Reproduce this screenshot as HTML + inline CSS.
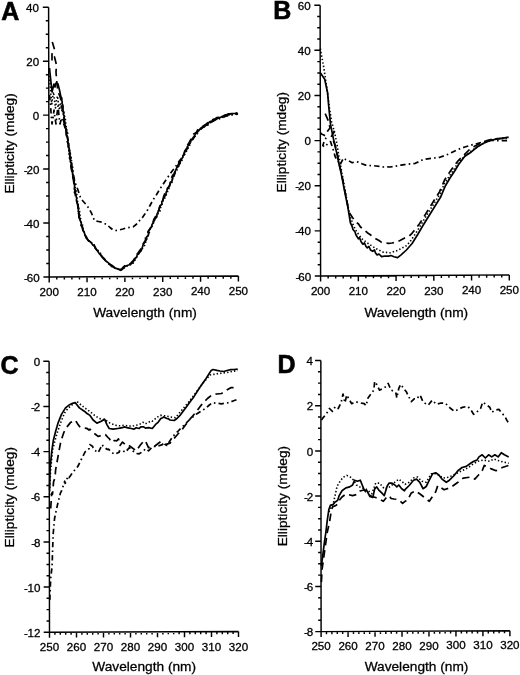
<!DOCTYPE html>
<html><head><meta charset="utf-8"><style>
html,body{margin:0;padding:0;background:#fff;}
svg{display:block;will-change:transform;}
.t{font-family:"Liberation Sans", sans-serif;font-size:11.6px;fill:#000;stroke:#000;stroke-width:0.3px;}
.at{font-family:"Liberation Sans", sans-serif;font-size:13.7px;fill:#000;stroke:#000;stroke-width:0.3px;}
.L{font-family:"Liberation Sans", sans-serif;font-size:25px;font-weight:bold;fill:#000;stroke:#000;stroke-width:0.6px;}
.ax{fill:none;stroke:#000;stroke-width:1.45;}
.c{fill:none;stroke:#000;stroke-width:1.6;stroke-linejoin:round;stroke-linecap:butt;}
</style></head><body>
<svg width="520" height="675" viewBox="0 0 520 675">
<text x="49.20" y="296.25" class="t" text-anchor="middle">200</text>
<text x="87.04" y="296.05" class="t" text-anchor="middle">210</text>
<text x="124.88" y="295.85" class="t" text-anchor="middle">220</text>
<text x="162.72" y="295.65" class="t" text-anchor="middle">230</text>
<text x="200.56" y="295.45" class="t" text-anchor="middle">240</text>
<text x="238.40" y="295.25" class="t" text-anchor="middle">250</text>
<text x="39.60" y="281.60" class="t" text-anchor="end"><tspan>-</tspan><tspan dx="-1.1">60</tspan></text>
<text x="39.48" y="227.64" class="t" text-anchor="end"><tspan>-</tspan><tspan dx="-1.1">40</tspan></text>
<text x="39.36" y="173.68" class="t" text-anchor="end"><tspan>-</tspan><tspan dx="-1.1">20</tspan></text>
<text x="39.24" y="119.72" class="t" text-anchor="end">0</text>
<text x="39.12" y="65.76" class="t" text-anchor="end">20</text>
<text x="39.00" y="11.80" class="t" text-anchor="end">40</text>
<path d="M48.60,7.20L49.20,277.00L238.40,276.00M49.20,277.00v5.5M56.77,276.96v2.6M64.34,276.92v2.6M71.90,276.88v2.6M79.47,276.84v2.6M87.04,276.80v5.5M94.61,276.76v2.6M102.18,276.72v2.6M109.74,276.68v2.6M117.31,276.64v2.6M124.88,276.60v5.5M132.45,276.56v2.6M140.02,276.52v2.6M147.58,276.48v2.6M155.15,276.44v2.6M162.72,276.40v5.5M170.29,276.36v2.6M177.86,276.32v2.6M185.42,276.28v2.6M192.99,276.24v2.6M200.56,276.20v5.5M208.13,276.16v2.6M215.70,276.12v2.6M223.26,276.08v2.6M230.83,276.04v2.6M238.40,276.00v5.5M49.20,277.00h-5.8M49.17,263.51h-2.9M49.14,250.02h-2.9M49.11,236.53h-2.9M49.08,223.04h-5.8M49.05,209.55h-2.9M49.02,196.06h-2.9M48.99,182.57h-2.9M48.96,169.08h-5.8M48.93,155.59h-2.9M48.90,142.10h-2.9M48.87,128.61h-2.9M48.84,115.12h-5.8M48.81,101.63h-2.9M48.78,88.14h-2.9M48.75,74.65h-2.9M48.72,61.16h-5.8M48.69,47.67h-2.9M48.66,34.18h-2.9M48.63,20.69h-2.9M48.60,7.20h-5.8" class="ax"/>
<text x="1.3" y="19.6" class="L">A</text>
<text transform="translate(14.0,143.4) rotate(-90)" class="at" text-anchor="middle">Ellipticity (mdeg)</text>
<text x="145.0" y="317.2" class="at" text-anchor="middle">Wavelength (nm)</text>
<text x="320.60" y="295.20" class="t" text-anchor="middle">200</text>
<text x="358.34" y="294.98" class="t" text-anchor="middle">210</text>
<text x="396.08" y="294.76" class="t" text-anchor="middle">220</text>
<text x="433.82" y="294.54" class="t" text-anchor="middle">230</text>
<text x="471.56" y="294.32" class="t" text-anchor="middle">240</text>
<text x="509.30" y="294.10" class="t" text-anchor="middle">250</text>
<text x="311.10" y="280.60" class="t" text-anchor="end"><tspan>-</tspan><tspan dx="-1.1">60</tspan></text>
<text x="311.02" y="235.47" class="t" text-anchor="end"><tspan>-</tspan><tspan dx="-1.1">40</tspan></text>
<text x="310.93" y="190.33" class="t" text-anchor="end"><tspan>-</tspan><tspan dx="-1.1">20</tspan></text>
<text x="310.85" y="145.20" class="t" text-anchor="end">0</text>
<text x="310.77" y="100.07" class="t" text-anchor="end">20</text>
<text x="310.68" y="54.93" class="t" text-anchor="end">40</text>
<text x="310.60" y="9.80" class="t" text-anchor="end">60</text>
<path d="M320.10,5.20L320.60,276.00L509.30,274.90M320.60,276.00v5.5M328.15,275.96v2.6M335.70,275.91v2.6M343.24,275.87v2.6M350.79,275.82v2.6M358.34,275.78v5.5M365.89,275.74v2.6M373.44,275.69v2.6M380.98,275.65v2.6M388.53,275.60v2.6M396.08,275.56v5.5M403.63,275.52v2.6M411.18,275.47v2.6M418.72,275.43v2.6M426.27,275.38v2.6M433.82,275.34v5.5M441.37,275.30v2.6M448.92,275.25v2.6M456.46,275.21v2.6M464.01,275.16v2.6M471.56,275.12v5.5M479.11,275.08v2.6M486.66,275.03v2.6M494.20,274.99v2.6M501.75,274.94v2.6M509.30,274.90v5.5M320.60,276.00h-5.8M320.58,264.72h-2.9M320.56,253.43h-2.9M320.54,242.15h-2.9M320.52,230.87h-5.8M320.50,219.58h-2.9M320.48,208.30h-2.9M320.45,197.02h-2.9M320.43,185.73h-5.8M320.41,174.45h-2.9M320.39,163.17h-2.9M320.37,151.88h-2.9M320.35,140.60h-5.8M320.33,129.32h-2.9M320.31,118.03h-2.9M320.29,106.75h-2.9M320.27,95.47h-5.8M320.25,84.18h-2.9M320.23,72.90h-2.9M320.20,61.62h-2.9M320.18,50.33h-5.8M320.16,39.05h-2.9M320.14,27.77h-2.9M320.12,16.48h-2.9M320.10,5.20h-5.8" class="ax"/>
<text x="273.3" y="18.9" class="L">B</text>
<text transform="translate(286.3,142.2) rotate(-90)" class="at" text-anchor="middle">Ellipticity (mdeg)</text>
<text x="416.3" y="317.0" class="at" text-anchor="middle">Wavelength (nm)</text>
<text x="49.50" y="651.40" class="t" text-anchor="middle">250</text>
<text x="76.50" y="651.30" class="t" text-anchor="middle">260</text>
<text x="103.50" y="651.20" class="t" text-anchor="middle">270</text>
<text x="130.50" y="651.10" class="t" text-anchor="middle">280</text>
<text x="157.50" y="651.00" class="t" text-anchor="middle">290</text>
<text x="184.50" y="650.90" class="t" text-anchor="middle">300</text>
<text x="211.50" y="650.80" class="t" text-anchor="middle">310</text>
<text x="238.50" y="650.70" class="t" text-anchor="middle">320</text>
<text x="40.50" y="636.80" class="t" text-anchor="end"><tspan>-</tspan><tspan dx="-0.4">12</tspan></text>
<text x="40.43" y="591.65" class="t" text-anchor="end"><tspan>-</tspan><tspan dx="-0.4">10</tspan></text>
<text x="40.37" y="546.50" class="t" text-anchor="end"><tspan>-</tspan><tspan dx="-1.1">8</tspan></text>
<text x="40.30" y="501.35" class="t" text-anchor="end"><tspan>-</tspan><tspan dx="-1.1">6</tspan></text>
<text x="40.23" y="456.20" class="t" text-anchor="end"><tspan>-</tspan><tspan dx="-1.1">4</tspan></text>
<text x="40.17" y="411.05" class="t" text-anchor="end"><tspan>-</tspan><tspan dx="-1.1">2</tspan></text>
<text x="40.10" y="365.90" class="t" text-anchor="end">0</text>
<path d="M49.10,361.30L49.50,632.20L238.50,631.50M49.50,632.20v5.5M54.90,632.18v2.6M60.30,632.16v2.6M65.70,632.14v2.6M71.10,632.12v2.6M76.50,632.10v5.5M81.90,632.08v2.6M87.30,632.06v2.6M92.70,632.04v2.6M98.10,632.02v2.6M103.50,632.00v5.5M108.90,631.98v2.6M114.30,631.96v2.6M119.70,631.94v2.6M125.10,631.92v2.6M130.50,631.90v5.5M135.90,631.88v2.6M141.30,631.86v2.6M146.70,631.84v2.6M152.10,631.82v2.6M157.50,631.80v5.5M162.90,631.78v2.6M168.30,631.76v2.6M173.70,631.74v2.6M179.10,631.72v2.6M184.50,631.70v5.5M189.90,631.68v2.6M195.30,631.66v2.6M200.70,631.64v2.6M206.10,631.62v2.6M211.50,631.60v5.5M216.90,631.58v2.6M222.30,631.56v2.6M227.70,631.54v2.6M233.10,631.52v2.6M238.50,631.50v5.5M49.50,632.20h-5.8M49.48,620.91h-2.9M49.47,609.62h-2.9M49.45,598.34h-2.9M49.43,587.05h-5.8M49.42,575.76h-2.9M49.40,564.48h-2.9M49.38,553.19h-2.9M49.37,541.90h-5.8M49.35,530.61h-2.9M49.33,519.33h-2.9M49.32,508.04h-2.9M49.30,496.75h-5.8M49.28,485.46h-2.9M49.27,474.18h-2.9M49.25,462.89h-2.9M49.23,451.60h-5.8M49.22,440.31h-2.9M49.20,429.03h-2.9M49.18,417.74h-2.9M49.17,406.45h-5.8M49.15,395.16h-2.9M49.13,383.88h-2.9M49.12,372.59h-2.9M49.10,361.30h-5.8" class="ax"/>
<text x="0.6" y="374.0" class="L">C</text>
<text transform="translate(14.3,497.2) rotate(-90)" class="at" text-anchor="middle">Ellipticity (mdeg)</text>
<text x="144.2" y="670.6" class="at" text-anchor="middle">Wavelength (nm)</text>
<text x="321.10" y="650.10" class="t" text-anchor="middle">250</text>
<text x="348.07" y="649.97" class="t" text-anchor="middle">260</text>
<text x="375.04" y="649.84" class="t" text-anchor="middle">270</text>
<text x="402.01" y="649.71" class="t" text-anchor="middle">280</text>
<text x="428.99" y="649.59" class="t" text-anchor="middle">290</text>
<text x="455.96" y="649.46" class="t" text-anchor="middle">300</text>
<text x="482.93" y="649.33" class="t" text-anchor="middle">310</text>
<text x="509.90" y="649.20" class="t" text-anchor="middle">320</text>
<text x="313.30" y="636.20" class="t" text-anchor="end"><tspan>-</tspan><tspan dx="-1.1">8</tspan></text>
<text x="313.26" y="591.03" class="t" text-anchor="end"><tspan>-</tspan><tspan dx="-1.1">6</tspan></text>
<text x="313.22" y="545.85" class="t" text-anchor="end"><tspan>-</tspan><tspan dx="-1.1">4</tspan></text>
<text x="313.18" y="500.68" class="t" text-anchor="end"><tspan>-</tspan><tspan dx="-1.1">2</tspan></text>
<text x="313.13" y="455.50" class="t" text-anchor="end">0</text>
<text x="313.09" y="410.33" class="t" text-anchor="end">2</text>
<text x="313.05" y="365.15" class="t" text-anchor="end">4</text>
<path d="M320.85,360.55L321.10,631.60L509.90,630.70M321.10,631.60v5.5M326.49,631.57v2.6M331.89,631.55v2.6M337.28,631.52v2.6M342.68,631.50v2.6M348.07,631.47v5.5M353.47,631.45v2.6M358.86,631.42v2.6M364.25,631.39v2.6M369.65,631.37v2.6M375.04,631.34v5.5M380.44,631.32v2.6M385.83,631.29v2.6M391.23,631.27v2.6M396.62,631.24v2.6M402.01,631.21v5.5M407.41,631.19v2.6M412.80,631.16v2.6M418.20,631.14v2.6M423.59,631.11v2.6M428.99,631.09v5.5M434.38,631.06v2.6M439.77,631.03v2.6M445.17,631.01v2.6M450.56,630.98v2.6M455.96,630.96v5.5M461.35,630.93v2.6M466.75,630.91v2.6M472.14,630.88v2.6M477.53,630.85v2.6M482.93,630.83v5.5M488.32,630.80v2.6M493.72,630.78v2.6M499.11,630.75v2.6M504.51,630.73v2.6M509.90,630.70v5.5M321.10,631.60h-5.8M321.09,620.31h-2.9M321.08,609.01h-2.9M321.07,597.72h-2.9M321.06,586.43h-5.8M321.05,575.13h-2.9M321.04,563.84h-2.9M321.03,552.54h-2.9M321.02,541.25h-5.8M321.01,529.96h-2.9M321.00,518.66h-2.9M320.99,507.37h-2.9M320.98,496.08h-5.8M320.96,484.78h-2.9M320.95,473.49h-2.9M320.94,462.19h-2.9M320.93,450.90h-5.8M320.92,439.61h-2.9M320.91,428.31h-2.9M320.90,417.02h-2.9M320.89,405.73h-5.8M320.88,394.43h-2.9M320.87,383.14h-2.9M320.86,371.84h-2.9M320.85,360.55h-5.8" class="ax"/>
<text x="277.4" y="372.6" class="L">D</text>
<text transform="translate(286.6,496.1) rotate(-90)" class="at" text-anchor="middle">Ellipticity (mdeg)</text>
<text x="416.5" y="670.6" class="at" text-anchor="middle">Wavelength (nm)</text>
<path class="c" style="stroke-width:1.7" d="M49.5,68.0 L50.3,76.0 L51.2,84.0 L52.0,92.0 L53.0,88.0 L54.0,84.0 L55.0,87.0 L56.0,83.0 L57.9,83.7 L59.5,90.0 L60.9,96.9 L61.8,98.0 L61.8,100.0 L62.2,102.2 L61.9,103.2 L62.9,105.4 L63.1,106.8 L63.0,109.3 L63.0,111.4 L64.0,112.2 L63.3,114.5 L64.5,116.2 L64.0,118.0 L64.1,119.6 L64.8,121.7 L64.8,123.3 L65.1,125.3 L65.4,126.7 L66.3,129.1 L66.4,130.5 L67.0,133.0 L66.3,134.2 L67.3,136.4 L67.8,137.9 L68.0,140.0 L67.7,141.7 L68.6,143.8 L68.4,145.3 L68.2,146.7 L69.3,148.7 L68.9,150.7 L69.7,152.7 L69.6,154.2 L70.0,156.4 L70.3,157.8 L70.6,159.2 L70.3,161.8 L71.6,163.5 L71.3,165.0 L71.7,167.8 L72.2,169.3 L72.6,170.9 L72.5,173.6 L72.8,175.1 L72.8,177.1 L73.8,178.5 L73.9,181.3 L74.3,183.1 L74.5,184.7 L74.6,186.5 L74.3,188.9 L75.2,190.1 L75.4,192.3 L75.6,194.2 L76.2,196.5 L76.7,198.4 L76.4,200.2 L77.0,202.6 L78.1,204.9 L78.3,206.7 L77.9,208.6 L78.6,209.5 L78.2,211.3 L79.2,213.3 L78.8,215.5 L79.5,216.8 L79.7,219.1 L80.2,220.7 L81.3,222.7 L81.3,224.6 L81.6,226.3 L82.7,227.9 L82.9,230.6 L84.0,231.6 L84.7,234.1 L85.0,235.1 L86.1,237.7 L88.1,240.2 L91.2,242.5 L92.8,245.1 L94.6,246.3 L95.2,248.2 L97.6,250.9 L98.5,252.5 L99.3,253.6 L101.3,255.8 L102.8,257.9 L105.2,260.5 L107.8,262.4 L109.7,264.1 L112.9,266.0 L115.0,268.2 L117.8,268.8 L120.4,270.3 L122.5,269.2 L123.9,267.3 L125.1,266.4 L127.9,265.2 L129.3,264.8 L131.3,263.8 L132.6,262.6 L134.4,260.0 L134.8,258.5 L136.7,257.2 L137.2,254.9 L138.7,253.9 L140.1,251.8 L141.2,250.7 L141.9,248.8 L142.7,246.2 L143.4,243.8 L145.1,242.0 L145.8,240.6 L146.6,238.7 L146.7,236.9 L147.9,235.5 L148.7,234.1 L148.5,232.1 L149.3,229.6 L150.1,228.7 L151.7,226.7 L152.0,224.6 L153.4,222.7 L154.0,220.8 L154.3,219.2 L156.0,217.9 L156.9,215.8 L157.0,214.2 L158.4,211.4 L159.1,209.6 L159.3,208.5 L160.0,205.8 L161.9,204.1 L161.8,201.8 L162.7,200.5 L163.4,198.8 L164.5,196.9 L166.0,194.3 L166.1,192.5 L166.8,190.8 L167.5,188.1 L169.4,186.5 L169.8,184.7 L170.3,182.3 L171.8,181.4 L172.7,178.5 L172.7,177.1 L174.4,175.0 L175.0,173.2 L175.3,171.1 L176.2,169.2 L176.8,167.6 L178.6,166.1 L179.1,164.7 L180.2,162.7 L180.3,161.0 L181.2,159.9 L182.6,157.6 L183.0,155.9 L184.2,154.0 L184.7,151.5 L185.7,149.8 L186.9,148.0 L187.3,146.8 L188.5,145.3 L189.6,143.6 L190.1,141.5 L191.8,139.4 L192.9,137.9 L193.6,137.2 L195.3,134.4 L196.1,132.5 L198.7,130.5 L200.4,128.5 L202.1,127.2 L203.1,126.9 L205.3,125.9 L207.1,124.7 L208.6,122.8 L209.9,121.6 L211.9,121.2 L213.0,119.5 L216.0,119.5 L217.8,118.3 L220.3,117.4 L222.1,116.5 L225.2,115.0 L229.1,114.3 L230.8,113.7 L232.3,113.6 L234.6,113.5 L238.0,113.4"/>
<path class="c" style="stroke-width:1.6;stroke-dasharray:1.4 2.1" d="M49.5,76.0 L50.3,86.0 L51.0,96.0 L51.8,104.0 L52.5,98.0 L53.5,92.0 L54.5,100.0 L55.5,108.0 L56.5,100.0 L57.5,96.0 L58.5,104.0 L59.5,110.0 L60.5,104.0 L61.5,108.0 L62.5,112.0 L64.9,115.4 L64.2,116.7 L65.5,119.8 L65.6,121.7 L65.9,124.3 L66.2,126.1 L66.4,128.7 L67.1,131.8 L67.7,133.6 L67.4,135.6 L67.3,137.6 L68.2,140.2 L68.4,143.2 L69.0,145.2 L69.0,146.8 L69.4,149.3 L70.0,152.7 L70.5,154.0 L71.1,157.1 L71.3,159.6 L71.7,161.8 L71.5,164.4 L72.6,165.6 L72.6,168.5 L72.6,170.5 L72.9,173.2 L73.3,175.3 L73.4,177.6 L74.4,179.4 L74.3,182.1 L74.9,183.8 L74.6,185.8 L75.5,187.9 L76.1,190.2 L76.5,192.5 L77.0,195.4 L76.9,197.6 L77.6,200.2 L77.6,202.2 L78.3,205.5 L78.8,207.2 L79.4,210.7 L79.9,212.7 L80.1,215.3 L80.6,217.8 L80.6,220.9 L81.1,222.7 L82.5,224.7 L82.5,227.8 L83.6,229.9 L83.9,231.7 L84.8,234.4 L86.6,238.4 L88.5,240.7 L91.0,242.6 L94.1,244.6 L95.7,248.6 L98.2,250.7 L100.4,253.1 L100.8,255.6 L103.7,258.2 L105.5,260.2 L107.5,262.8 L110.9,265.3 L113.6,267.2 L115.6,268.3 L118.3,269.3 L120.8,270.0 L122.4,269.5 L125.0,267.5 L126.1,266.5 L128.6,265.5 L132.7,263.9 L134.7,260.8 L136.2,257.4 L138.7,253.4 L140.8,250.5 L142.0,248.8 L143.6,247.0 L145.4,244.2 L145.8,240.8 L146.7,238.9 L147.9,237.0 L148.9,234.2 L149.4,232.4 L150.0,229.3 L151.6,226.9 L153.1,224.6 L153.5,222.3 L154.7,220.1 L156.2,218.2 L157.1,215.8 L158.1,213.5 L160.1,210.7 L160.5,207.8 L161.8,204.7 L162.7,202.6 L163.5,199.5 L165.4,197.3 L166.1,195.4 L167.4,192.0 L168.9,189.5 L168.9,187.3 L170.1,184.3 L172.1,182.1 L172.2,179.2 L173.8,176.7 L174.7,174.2 L175.7,171.2 L177.1,169.8 L177.9,167.4 L179.1,165.0 L180.5,162.6 L182.0,160.3 L182.3,157.7 L183.7,155.7 L185.8,153.0 L187.2,149.2 L188.6,147.4 L190.0,144.5 L190.9,141.8 L192.9,139.2 L193.9,137.1 L196.0,135.4 L197.6,133.3 L198.6,130.8 L200.6,129.0 L203.8,127.1 L207.8,124.9 L211.0,121.9 L213.7,121.0 L215.7,119.5 L217.8,118.2 L221.0,118.5 L223.0,116.7 L225.9,115.6 L229.7,115.0 L233.0,114.4 L235.2,114.2 L238.7,114.2"/>
<path class="c" style="stroke-width:1.7;stroke-dasharray:7.5 4.8" d="M52.3,42.0 L53.5,46.0 L54.7,50.0 L52.0,54.0 L52.0,61.0 L54.5,57.0 L56.5,65.0 L56.0,72.0 L56.7,81.0 L57.5,88.0 L59.0,94.0 L60.5,98.0 L63.0,114.3 L63.5,116.7 L64.1,118.3 L63.7,121.6 L64.4,123.2 L65.6,125.8 L65.8,128.1 L65.9,130.1 L66.2,133.3 L66.4,135.4 L67.0,136.9 L67.4,139.9 L67.2,141.5 L68.3,144.4 L68.5,147.2 L68.8,149.5 L68.8,151.7 L69.2,154.3 L70.0,155.6 L69.5,158.1 L70.8,160.7 L70.8,162.9 L70.9,165.2 L71.0,167.7 L71.6,170.3 L72.1,172.5 L72.6,174.8 L72.7,176.1 L73.2,179.3 L73.6,181.0 L73.8,182.8 L74.2,185.4 L73.9,187.0 L75.0,190.4 L74.4,192.4 L75.3,194.0 L75.6,197.2 L76.7,198.8 L76.9,201.3 L77.5,204.1 L78.0,207.6 L78.0,210.3 L78.1,211.9 L78.8,214.5 L78.9,217.3 L80.0,219.3 L79.9,222.4 L80.8,224.9 L82.3,226.5 L82.5,228.9 L83.5,231.3 L84.2,233.6 L86.5,237.2 L87.9,240.0 L90.2,242.0 L93.2,244.3 L95.1,247.1 L97.1,250.6 L98.2,252.9 L100.5,254.6 L102.7,257.2 L105.1,259.5 L107.2,262.5 L108.9,263.8 L112.2,266.8 L113.8,267.3 L117.3,268.7 L119.3,269.3 L121.6,269.0 L123.3,267.1 L125.2,265.3 L127.6,265.5 L130.8,263.2 L133.9,259.9 L135.3,256.5 L138.2,252.7 L140.1,250.0 L141.8,247.9 L142.9,245.3 L143.6,243.1 L145.5,240.1 L145.5,237.6 L146.7,235.6 L147.9,234.2 L148.0,231.4 L149.9,229.4 L151.0,226.5 L151.3,224.0 L153.2,221.7 L153.8,219.6 L155.0,217.4 L156.7,214.5 L156.7,212.8 L158.9,210.3 L159.4,207.6 L161.1,204.2 L162.0,202.3 L163.0,199.4 L163.6,196.6 L164.7,193.7 L166.2,191.3 L167.6,188.5 L168.9,186.6 L170.0,184.3 L171.1,181.3 L171.1,178.9 L172.4,175.8 L174.2,173.4 L175.0,171.3 L176.3,168.4 L177.0,166.8 L178.4,164.5 L179.3,161.6 L180.6,160.1 L181.3,157.9 L183.6,155.0 L184.9,151.1 L186.1,149.5 L186.8,146.1 L188.4,143.8 L189.9,141.2 L191.7,138.2 L192.3,136.0 L193.9,133.8 L196.6,132.6 L197.3,130.4 L199.3,128.4 L202.6,126.4 L206.3,123.9 L209.1,121.5 L212.3,119.8 L215.3,118.7 L216.7,117.6 L219.3,117.3 L222.0,116.3 L225.4,115.3 L228.3,113.9 L232.0,113.9 L234.5,113.7 L237.1,112.9"/>
<path class="c" style="stroke-width:1.7;stroke-dasharray:5.4 3.1 1.6 3.1" d="M49.5,95.0 L50.5,105.0 L51.2,115.0 L52.0,124.0 L53.0,118.0 L54.0,110.0 L55.0,118.0 L56.0,124.0 L57.0,114.0 L58.0,106.0 L59.0,116.0 L60.0,124.0 L61.5,118.0 L63.0,122.0 L64.5,126.0 L66.5,133.0 L68.5,144.0 L70.5,157.0 L72.5,170.0 L74.5,180.0 L76.0,185.0 L77.7,189.2 L80.8,198.5 L83.8,202.0 L86.9,205.4 L89.2,209.0 L91.5,213.1 L93.0,217.0 L94.6,220.8 L98.5,221.5 L102.3,222.3 L104.6,223.5 L106.9,224.6 L110.0,227.5 L113.1,230.0 L116.0,230.5 L119.2,230.0 L123.0,229.0 L126.9,227.7 L130.0,227.3 L133.1,226.9 L135.5,225.0 L137.7,223.1 L140.0,220.0 L142.3,217.7 L144.5,214.5 L146.9,211.2 L150.0,205.5 L153.3,199.5 L156.6,194.5 L160.0,188.9 L164.4,182.2 L168.9,175.6 L172.2,171.0 L175.6,166.7 L178.0,163.0 L180.5,159.5 L182.5,157.0 L185.1,152.6 L188.0,147.3 L190.5,142.2 L193.9,137.7 L197.0,133.1 L200.3,129.6 L203.4,127.1 L206.8,125.5 L210.5,123.0 L213.8,120.6 L217.9,119.2 L222.6,117.7 L226.0,116.1 L229.3,115.3 L232.8,114.6 L237.9,114.1"/>
<path class="c" style="stroke-width:1.6;stroke-dasharray:1.4 2.1" d="M320.3,48.5 L323.8,67.7 L326.7,86.9 L329.5,108.0 L331.5,121.4 L333.4,128.1 L335.3,135.8 L337.2,145.4 L338.7,155.0 L340.6,165.6 L342.5,176.0 L344.5,187.0 L346.5,198.0 L348.5,209.0 L350.5,217.0 L353.1,224.7 L356.7,231.8 L362.0,238.9 L369.1,244.2 L376.2,248.7 L383.3,252.2 L390.4,252.8 L397.6,250.4 L406.0,246.0 L409.8,242.0 L413.3,237.0 L417.8,230.0 L422.3,222.5 L428.1,213.0 L434.0,203.5 L439.9,194.0 L444.8,183.0 L449.6,175.8 L454.5,168.5 L458.3,162.5 L461.3,159.5 L466.0,155.0 L472.0,150.5 L478.0,146.5 L484.0,143.0 L490.0,140.5 L496.0,139.0 L502.0,138.5 L509.0,138.5"/>
<path class="c" style="stroke-width:1.7" d="M320.5,73.0 L324.7,79.2 L327.6,92.7 L328.6,105.0 L330.5,124.2 L332.4,133.9 L334.4,143.5 L336.8,153.1 L338.7,162.7 L340.7,171.3 L342.5,180.0 L344.2,189.1 L346.0,198.0 L347.8,206.9 L349.0,214.0 L350.4,222.9 L352.0,226.0 L353.0,229.5 L354.9,231.8 L356.0,235.0 L358.4,238.9 L359.5,237.5 L361.0,241.5 L362.9,244.2 L364.5,243.0 L366.0,246.5 L367.3,247.8 L369.0,246.5 L370.5,250.0 L372.7,251.3 L374.5,250.0 L375.5,253.0 L377.1,254.9 L379.0,254.0 L381.6,256.7 L385.0,256.0 L388.7,256.1 L391.0,255.5 L394.0,256.7 L397.6,257.6 L401.1,254.9 L406.4,250.0 L412.1,243.5 L418.0,234.0 L422.8,225.7 L428.7,216.2 L434.6,206.7 L440.5,197.3 L445.3,186.0 L450.0,178.0 L455.0,170.5 L458.6,164.5 L464.8,156.3 L471.0,152.2 L477.2,147.0 L483.5,143.2 L489.7,140.7 L495.9,139.1 L502.1,138.3 L508.5,137.2"/>
<path class="c" style="stroke-width:1.7;stroke-dasharray:7.5 4.8" d="M325.2,113.7 L328.6,121.4 L330.0,128.0 L327.6,131.0 L334.4,131.5 L331.0,137.0 L334.7,143.5 L337.1,153.1 L339.0,162.7 L341.0,171.3 L342.8,180.0 L344.5,189.1 L346.3,198.0 L348.0,206.9 L349.5,213.0 L351.5,216.0 L353.1,218.4 L356.0,222.0 L358.5,224.0 L360.5,227.0 L362.9,229.1 L365.0,230.5 L367.3,232.7 L370.0,234.5 L373.0,237.0 L376.2,238.9 L379.0,240.5 L381.6,242.4 L385.0,243.0 L388.7,243.3 L392.0,243.0 L395.8,242.4 L400.0,240.5 L404.7,238.0 L408.6,236.8 L412.4,232.8 L416.1,228.3 L419.5,223.8 L421.9,220.0 L427.8,210.5 L433.7,201.0 L439.6,191.6 L444.4,180.3 L449.1,173.1 L454.1,165.8 L458.1,160.8 L463.6,155.3 L469.0,150.0 L475.0,146.0 L481.0,143.0 L487.0,140.5 L493.0,139.0 L499.0,138.5 L505.0,138.0 L509.0,137.5"/>
<path class="c" style="stroke-width:1.7;stroke-dasharray:5.4 3.1 1.6 3.1" d="M320.4,133.0 L321.5,134.0 L323.8,135.0 L326.7,136.8 L324.3,141.0 L322.8,145.4 L324.3,146.9 L327.5,144.0 L330.5,141.6 L333.0,149.0 L335.3,157.0 L338.0,161.0 L340.1,164.7 L342.5,160.0 L344.0,158.0 L346.0,159.8 L348.8,160.8 L352.2,162.7 L355.5,161.8 L358.4,162.1 L362.0,163.7 L365.6,165.1 L369.0,165.5 L372.7,165.6 L376.0,166.0 L379.8,166.4 L383.0,167.0 L386.9,166.9 L390.0,167.0 L394.0,166.4 L397.5,165.8 L401.1,165.1 L404.5,164.6 L408.2,164.2 L411.5,163.8 L415.3,163.3 L419.0,161.6 L423.3,159.4 L427.5,158.8 L431.6,158.4 L435.5,157.8 L439.9,157.3 L444.0,155.8 L448.2,154.2 L452.3,152.2 L456.5,150.1 L460.5,148.5 L464.8,147.0 L469.0,145.8 L473.1,144.5 L477.3,143.5 L481.4,142.4 L485.5,141.4 L489.7,140.3 L494.0,140.5 L498.0,140.7 L503.0,140.7 L508.4,140.7"/>
<path class="c" style="stroke-width:1.7" d="M49.6,490.0 L50.1,468.2 L51.7,451.9 L53.3,440.5 L55.8,430.7 L58.2,422.6 L61.5,414.4 L65.5,407.9 L69.6,404.7 L72.5,403.3 L75.3,402.7 L79.4,407.9 L84.3,411.2 L87.0,413.5 L90.0,415.4 L93.1,420.0 L96.9,423.1 L100.8,421.5 L104.6,419.2 L106.9,424.6 L109.2,428.5 L113.1,429.2 L117.7,428.5 L120.0,428.1 L122.3,427.7 L124.6,426.9 L126.9,427.7 L129.2,428.1 L131.5,428.5 L133.8,429.2 L136.2,427.7 L139.2,428.5 L140.8,426.9 L143.8,426.9 L145.4,428.1 L148.5,427.7 L152.3,428.5 L156.2,423.8 L158.1,422.3 L160.8,418.5 L162.7,417.7 L163.8,416.9 L166.9,418.5 L168.5,418.8 L170.0,420.0 L174.2,420.5 L177.0,418.5 L180.0,415.4 L183.5,410.8 L186.9,406.2 L190.3,401.5 L193.8,396.9 L196.7,392.3 L199.6,387.7 L202.5,383.6 L205.4,379.6 L208.3,375.0 L211.2,370.4 L213.0,369.5 L216.9,370.4 L220.0,371.0 L223.8,371.5 L227.0,370.5 L230.8,369.7 L234.0,369.5 L237.7,369.2"/>
<path class="c" style="stroke-width:1.6;stroke-dasharray:1.4 2.1" d="M49.6,495.0 L50.5,472.0 L52.5,450.3 L55.0,440.5 L57.4,432.3 L60.7,422.6 L64.7,412.8 L67.5,409.0 L70.4,406.3 L73.5,403.5 L76.9,401.4 L81.8,405.5 L85.0,408.0 L88.3,410.4 L90.0,411.5 L94.6,415.4 L99.2,418.5 L105.4,420.0 L110.0,423.1 L116.2,425.4 L120.0,425.8 L123.8,425.4 L127.5,425.8 L131.5,426.2 L133.8,425.8 L139.2,424.6 L143.1,422.3 L145.4,423.8 L151.5,420.8 L152.3,421.2 L157.7,416.9 L160.4,415.4 L162.3,415.4 L166.9,416.2 L170.0,416.9 L175.4,417.7 L178.8,413.7 L182.3,409.6 L185.7,405.5 L189.2,401.5 L192.7,396.9 L196.2,392.3 L199.6,387.7 L203.1,383.1 L206.5,379.0 L210.0,375.0 L213.5,374.4 L216.9,373.8 L221.5,373.2 L226.2,372.7 L232.0,371.5 L237.7,370.4"/>
<path class="c" style="stroke-width:1.7;stroke-dasharray:7.5 4.8" d="M50.7,508.5 L51.7,493.1 L52.5,494.2 L53.6,481.6 L55.0,478.0 L55.6,470.0 L57.4,460.0 L59.0,451.0 L60.7,442.1 L62.3,437.0 L63.9,432.3 L65.5,429.3 L67.2,426.6 L70.4,422.6 L72.8,421.2 L75.3,420.1 L77.7,424.0 L80.2,427.5 L83.5,428.0 L86.7,428.3 L89.0,430.0 L90.0,429.2 L91.6,431.5 L95.0,434.0 L98.1,436.4 L99.2,436.2 L102.0,435.0 L104.6,434.8 L105.4,434.6 L108.0,437.5 L109.5,438.9 L111.5,442.3 L114.4,440.5 L116.9,440.8 L118.5,438.9 L120.0,445.4 L122.5,442.1 L125.4,444.6 L126.9,444.2 L130.0,446.2 L136.2,450.8 L140.0,445.5 L143.8,440.8 L145.4,440.8 L148.5,447.7 L154.6,446.2 L160.8,441.5 L163.8,443.1 L165.4,444.6 L170.0,443.1 L173.1,439.6 L177.5,434.5 L182.3,429.2 L185.8,424.5 L189.2,420.0 L192.7,416.0 L196.2,411.9 L199.6,407.3 L203.1,402.7 L207.5,398.5 L212.3,394.6 L217.0,394.0 L221.5,393.5 L226.0,390.5 L230.8,387.7 L234.0,387.5 L237.7,387.2"/>
<path class="c" style="stroke-width:1.7;stroke-dasharray:5.4 3.1 1.6 3.1" d="M49.8,600.0 L50.7,577.9 L52.1,566.3 L52.7,547.1 L53.2,533.6 L54.6,518.2 L57.5,504.7 L60.4,493.1 L61.5,491.0 L64.7,481.2 L65.2,483.5 L68.0,476.3 L69.0,477.7 L72.9,472.2 L77.8,466.5 L81.0,460.0 L85.1,451.9 L89.2,448.6 L90.0,444.6 L92.4,446.2 L93.1,447.7 L94.9,450.3 L97.7,452.3 L98.1,452.7 L102.3,444.6 L103.0,446.2 L107.1,449.4 L108.5,449.2 L111.1,451.9 L113.8,453.8 L114.4,454.3 L119.2,452.3 L119.3,451.1 L122.5,450.5 L125.4,452.3 L129.2,447.7 L134.6,452.3 L136.2,453.5 L139.2,453.8 L143.8,450.8 L145.4,448.8 L148.5,450.8 L153.1,446.2 L154.6,446.5 L157.7,446.2 L162.3,444.6 L163.8,443.1 L166.9,445.4 L173.1,436.2 L177.7,431.5 L182.3,426.9 L185.8,423.5 L189.2,420.0 L192.7,417.0 L196.2,414.2 L200.8,411.3 L205.4,408.5 L208.8,405.5 L212.3,402.7 L217.0,403.3 L221.5,403.8 L225.0,403.3 L228.5,402.7 L233.0,401.0 L237.7,399.2"/>
<path class="c" style="stroke-width:1.7;stroke-dasharray:5.4 3.1 1.6 3.1" d="M321.5,420.0 L322.8,418.1 L326.7,413.3 L329.5,408.5 L332.4,411.3 L335.3,406.5 L338.2,408.5 L341.1,402.7 L343.0,394.0 L344.9,402.7 L346.8,395.0 L348.8,398.8 L351.7,403.7 L355.5,401.7 L359.3,402.7 L364.2,403.7 L366.1,405.6 L368.0,397.9 L370.9,394.0 L373.8,390.2 L374.7,381.5 L376.7,384.4 L379.5,390.2 L383.4,388.3 L386.3,386.3 L388.2,383.5 L391.1,390.2 L394.0,391.2 L395.9,393.1 L396.8,397.9 L398.8,388.3 L400.7,384.4 L403.6,388.3 L406.5,392.1 L408.4,396.0 L411.3,401.7 L414.2,398.8 L416.1,399.2 L420.1,395.1 L423.1,402.2 L428.2,405.2 L432.2,400.2 L436.3,404.2 L440.3,403.2 L445.3,403.2 L450.4,408.3 L454.4,411.3 L458.5,409.3 L462.5,407.3 L467.6,406.3 L470.6,409.3 L473.6,414.3 L476.6,412.3 L480.7,408.3 L482.7,402.2 L485.7,404.2 L489.8,407.3 L491.8,412.3 L494.8,410.3 L498.9,409.3 L501.9,413.3 L504.9,416.3 L506.9,420.4 L508.9,423.4"/>
<path class="c" style="stroke-width:1.7" d="M321.4,566.0 L322.9,554.3 L324.4,542.4 L325.9,532.0 L327.3,520.2 L328.8,509.8 L330.3,505.4 L333.4,504.2 L334.7,502.4 L336.3,501.3 L337.7,500.2 L339.2,495.6 L342.0,490.8 L345.9,487.9 L349.7,486.9 L352.6,485.0 L354.5,480.2 L357.4,481.2 L360.3,480.2 L362.2,485.0 L364.2,489.8 L367.0,490.8 L369.9,496.5 L372.8,497.5 L374.7,488.8 L376.7,486.9 L378.6,489.8 L381.5,492.7 L384.3,495.6 L387.2,486.0 L389.2,483.1 L392.0,483.1 L394.9,485.0 L396.8,486.9 L398.8,485.0 L401.7,488.8 L404.5,490.8 L405.0,489.7 L409.2,485.5 L413.5,480.2 L416.6,479.1 L419.8,482.3 L423.0,488.7 L426.2,486.5 L429.3,480.2 L432.5,473.8 L435.7,472.8 L438.8,474.9 L442.0,479.1 L446.3,482.3 L449.4,480.2 L453.7,476.0 L457.9,470.7 L462.1,467.5 L466.3,466.4 L470.6,463.3 L473.8,461.2 L476.9,460.1 L479.0,456.9 L482.2,454.8 L485.4,458.0 L488.6,454.8 L491.7,456.9 L494.9,454.8 L498.1,456.9 L501.3,452.7 L504.4,454.8 L508.7,456.9"/>
<path class="c" style="stroke-width:1.6;stroke-dasharray:1.4 2.1" d="M329.0,512.0 L331.0,507.0 L333.4,503.0 L337.2,486.0 L340.1,481.2 L343.0,477.3 L346.8,475.4 L350.7,477.3 L353.6,480.2 L356.5,485.0 L361.3,487.9 L366.0,489.0 L371.8,493.7 L375.7,483.1 L379.5,483.1 L384.3,488.8 L388.0,488.0 L391.1,486.0 L395.0,482.0 L398.8,479.2 L402.6,482.1 L405.0,484.4 L409.2,482.3 L413.5,478.1 L417.7,477.0 L421.9,481.3 L426.2,482.3 L431.4,473.8 L436.7,473.8 L443.1,478.1 L449.4,477.0 L455.8,473.8 L462.1,470.7 L468.5,467.5 L473.0,464.0 L478.0,461.2 L483.3,460.1 L489.6,461.2 L493.9,459.0 L500.2,461.2 L508.7,463.3"/>
<path class="c" style="stroke-width:1.7;stroke-dasharray:7.5 4.8" d="M321.4,582.0 L322.1,569.1 L324.5,552.0 L327.3,532.0 L329.6,521.7 L331.0,512.8 L332.5,506.9 L336.3,505.2 L337.7,503.9 L339.2,500.4 L342.0,497.0 L346.0,494.0 L352.6,495.6 L356.5,494.6 L360.0,491.0 L364.0,490.0 L368.0,494.0 L371.8,496.5 L375.7,497.5 L379.0,499.0 L383.4,501.3 L386.0,498.0 L389.2,495.6 L391.1,498.5 L394.0,499.0 L397.8,499.4 L400.0,501.0 L402.6,503.3 L405.0,501.3 L407.4,500.4 L411.3,492.9 L415.6,490.8 L420.0,494.0 L424.0,497.1 L429.3,501.3 L435.7,491.8 L437.8,485.5 L444.1,489.7 L450.5,487.6 L457.9,482.3 L463.2,478.1 L467.5,477.5 L471.6,477.0 L474.8,479.1 L478.5,475.0 L482.2,470.7 L484.3,465.4 L490.7,468.6 L496.0,470.7 L502.3,467.5 L508.7,465.4"/>
</svg></body></html>
